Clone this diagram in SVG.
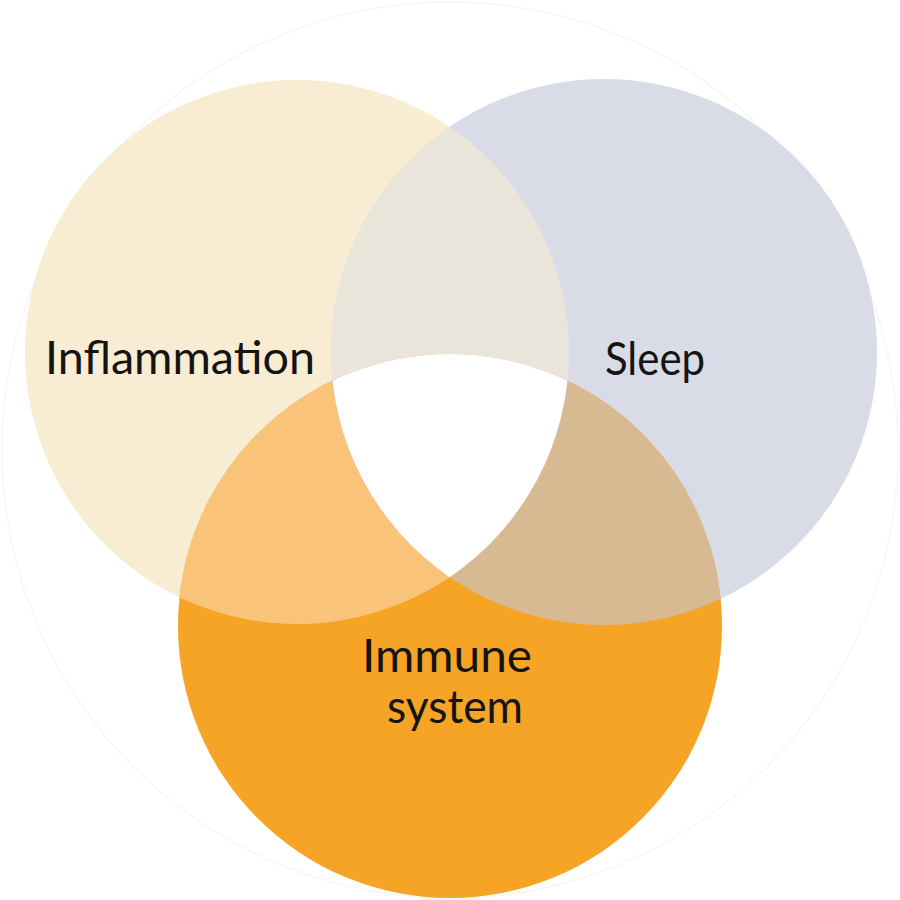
<svg xmlns="http://www.w3.org/2000/svg" width="900" height="900" viewBox="0 0 900 900">
  <style>
    .lbl { font-family: "Lato", "Open Sans", "DejaVu Sans", sans-serif; font-size: 47px; fill: #141414; }
  </style>
  <defs>
    <clipPath id="clipI"><circle cx="297" cy="352" r="272"/></clipPath>
    <clipPath id="clipS"><circle cx="604" cy="352" r="273"/></clipPath>
    <clipPath id="clipIS" clip-path="url(#clipI)"><circle cx="604" cy="352" r="273"/></clipPath>
  </defs>
  <rect width="900" height="900" fill="#FFFFFF"/>
  <circle cx="450" cy="450" r="448" fill="none" stroke="#F6F6F6" stroke-width="1.5"/>

  <g id="inflammation">
    <circle cx="297" cy="352" r="272" fill="#F8ECD2"/>
  </g>
  <g id="sleep">
    <circle cx="604" cy="352" r="273" fill="#D9DCE6"/>
  </g>
  <g id="immune">
    <circle cx="450" cy="626" r="272" fill="#F5A425"/>
  </g>

  <g id="overlaps">
    <circle cx="604" cy="352" r="273" fill="#EAE5DA" clip-path="url(#clipI)"/>
    <circle cx="450" cy="626" r="272" fill="#F9C47A" clip-path="url(#clipI)"/>
    <circle cx="450" cy="626" r="272" fill="#D7B992" clip-path="url(#clipS)"/>
    <circle cx="450" cy="626" r="272" fill="#FFFFFF" clip-path="url(#clipIS)"/>
  </g>

  <g id="labels">
    <text class="lbl" x="45" y="374" textLength="270" lengthAdjust="spacingAndGlyphs">Inflammation</text>
    <text class="lbl" x="605" y="375" textLength="100" lengthAdjust="spacingAndGlyphs">Sleep</text>
    <text class="lbl" x="362" y="672" textLength="170" lengthAdjust="spacingAndGlyphs">Immune</text>
    <text class="lbl" x="387" y="723" textLength="136" lengthAdjust="spacingAndGlyphs">system</text>
  </g>
</svg>
